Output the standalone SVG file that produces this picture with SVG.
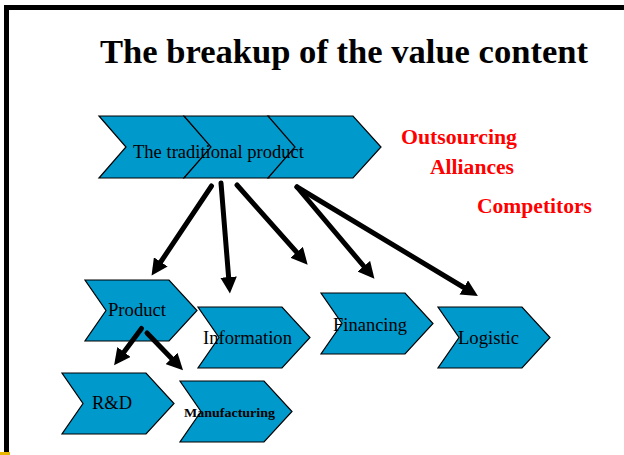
<svg xmlns="http://www.w3.org/2000/svg" width="624" height="455" viewBox="0 0 624 455">
  <style>
    .chev { fill: #0099CC; stroke: #000; stroke-width: 1.2; stroke-linejoin: miter; }
    .lbl { font-family: "Liberation Serif", "Times New Roman", serif; font-size: 18px; fill: #000; }
    .red { font-family: "Liberation Serif", "Times New Roman", serif; font-size: 20px; font-weight: bold; fill: #FF0000; }
    .arrow { fill: none; stroke: #000; stroke-width: 5; stroke-linecap: round; marker-end: url(#ah); }
  </style>
  <defs>
    <path id="chevTop" d="M0,0 H85 L113,31 L85,62 H0 L27,31 Z"/>
    <path id="chevBot" d="M0,0 H84 L112,30.5 L84,61 H0 L21,30.5 Z"/>
    <marker id="ah" markerUnits="strokeWidth" markerWidth="3.3" markerHeight="3.3" viewBox="0 0 10 10" refX="3" refY="5" orient="auto">
      <path d="M0,0 L10,5 L0,10 Z" fill="#000"/>
    </marker>
  </defs>

  <rect x="0" y="0" width="624" height="455" fill="#fff"/>
  <rect x="6.5" y="7.5" width="640" height="470" fill="none" stroke="#000" stroke-width="5"/>
  <rect x="0" y="452" width="10" height="3" fill="#E8B800"/>

  <text x="100" y="63" font-family="Liberation Serif, Times New Roman, serif" font-size="33" font-weight="bold" textLength="488" lengthAdjust="spacingAndGlyphs">The breakup of the value content</text>

  <g id="traditional">
    <use href="#chevTop" class="chev" transform="translate(99,116)"/>
    <use href="#chevTop" class="chev" transform="translate(184,116)"/>
    <use href="#chevTop" class="chev" transform="translate(268,116)"/>
    <text class="lbl" x="133" y="158" textLength="171" lengthAdjust="spacingAndGlyphs">The traditional product</text>
  </g>

  <g id="outsourcing"><text class="red" x="401" y="144" textLength="116" lengthAdjust="spacingAndGlyphs">Outsourcing</text></g>
  <g id="alliances"><text class="red" x="430" y="174" textLength="84" lengthAdjust="spacingAndGlyphs">Alliances</text></g>
  <g id="competitors"><text class="red" x="477" y="213" textLength="115" lengthAdjust="spacingAndGlyphs">Competitors</text></g>

  <g id="product">
    <use href="#chevBot" class="chev" transform="translate(85,280)"/>
    <text class="lbl" x="108" y="316" textLength="58" lengthAdjust="spacingAndGlyphs">Product</text>
  </g>
  <g id="information">
    <use href="#chevBot" class="chev" transform="translate(198,307)"/>
    <text class="lbl" x="203" y="344" textLength="89" lengthAdjust="spacingAndGlyphs">Information</text>
  </g>
  <g id="financing">
    <use href="#chevBot" class="chev" transform="translate(321,293)"/>
    <text class="lbl" x="333" y="331" textLength="74" lengthAdjust="spacingAndGlyphs">Financing</text>
  </g>
  <g id="logistic">
    <use href="#chevBot" class="chev" transform="translate(438,307)"/>
    <text class="lbl" x="458" y="344" textLength="61" lengthAdjust="spacingAndGlyphs">Logistic</text>
  </g>
  <g id="rd">
    <use href="#chevBot" class="chev" transform="translate(62,373)"/>
    <text class="lbl" x="92" y="409" textLength="40" lengthAdjust="spacingAndGlyphs">R&amp;D</text>
  </g>
  <g id="manufacturing">
    <use href="#chevBot" class="chev" transform="translate(180,381)"/>
    <text x="184" y="417" font-family="Liberation Serif, Times New Roman, serif" font-size="12" font-weight="bold" textLength="91" lengthAdjust="spacingAndGlyphs">Manufacturing</text>
  </g>

  <g id="connectors">
    <line class="arrow" x1="211.5" y1="186" x2="158" y2="266"/>
    <line class="arrow" x1="221" y1="183" x2="229" y2="282"/>
    <line class="arrow" x1="237" y1="185" x2="300" y2="256"/>
    <line class="arrow" x1="297" y1="187" x2="367" y2="270"/>
    <line class="arrow" x1="297" y1="187" x2="468" y2="290"/>
    <line class="arrow" x1="141.5" y1="328.5" x2="121" y2="356"/>
    <line class="arrow" x1="147" y1="333" x2="175" y2="362"/>
  </g>
</svg>
